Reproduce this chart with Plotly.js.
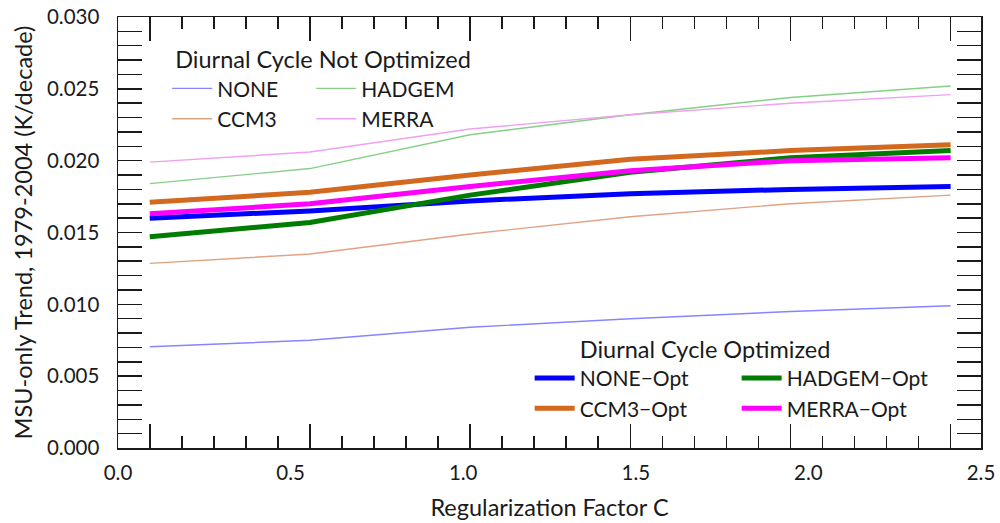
<!DOCTYPE html>
<html>
<head>
<meta charset="utf-8">
<script src="https://cdn.plot.ly/plotly-3.0.1.min.js"></script>
<style>
  html, body { margin: 0; padding: 0; background: #fff; }
  #chart { width: 1000px; height: 523px; }
</style>
</head>
<body>
<div id="chart"></div>
<script>
// Regularization factor C at which each trend was computed
const regFactor = [0.092, 0.556, 1.02, 1.484, 1.948, 2.412];

// Diurnal cycle not optimized (K/decade)
const trendNone   = [0.00705, 0.0075, 0.0084, 0.0090, 0.0095, 0.0099];
const trendCcm3   = [0.01285, 0.0135, 0.0149, 0.0161, 0.0170, 0.0176];
const trendHadgem = [0.0184, 0.01945, 0.0218, 0.0232, 0.0244, 0.0252];
const trendMerra  = [0.0199, 0.0206, 0.0222, 0.0232, 0.0240, 0.0246];

// Diurnal cycle optimized (K/decade)
const trendNoneOpt   = [0.0160, 0.0165, 0.0172, 0.0177, 0.0180, 0.0182];
const trendCcm3Opt   = [0.0171, 0.0178, 0.0190, 0.0201, 0.0207, 0.0211];
const trendHadgemOpt = [0.0147, 0.0157, 0.0176, 0.0192, 0.0202, 0.0207];
const trendMerraOpt  = [0.0163, 0.0170, 0.0182, 0.0193, 0.0200, 0.0202];

const xTickLabels = [0.0, 0.5, 1.0, 1.5, 2.0, 2.5];

const FONT = 'Lato, "Open Sans", sans-serif';
const INK = '#1a1a1a';

// four minor ticks between consecutive C values
const minorTicks = [];
for (let i = 0; i < regFactor.length - 1; i++) {
  for (let k = 1; k < 5; k++) {
    minorTicks.push(regFactor[i] + (regFactor[i + 1] - regFactor[i]) * k / 5);
  }
}

// thin lines sit on the labelled x axis, thick ones on the ticked twin axis (same range)
function thin(name, y, color, group) {
  return { x: regFactor, y: y, name: name, type: 'scatter', mode: 'lines', xaxis: 'x',
           line: { color: color, width: 1.4 }, legend: 'legend', legendgroup: group };
}
function thick(name, y, color, group) {
  return { x: regFactor, y: y, name: name, type: 'scatter', mode: 'lines', xaxis: 'x2',
           line: { color: color, width: 5 }, legend: 'legend2', legendgroup: group };
}

const traces = [
  thin('NONE',   trendNone,   '#8585ff', 'a'),
  thin('CCM3',   trendCcm3,   '#e0a283', 'a'),
  thin('HADGEM', trendHadgem, '#86cf86', 'b'),
  thin('MERRA',  trendMerra,  '#f0a0f0', 'b'),
  thick('NONE\u2212Opt',   trendNoneOpt,   '#0000ff', 'c'),
  thick('CCM3\u2212Opt',   trendCcm3Opt,   '#d2691e', 'c'),
  thick('HADGEM\u2212Opt', trendHadgemOpt, '#007d00', 'd'),
  thick('MERRA\u2212Opt',  trendMerraOpt,  '#ff00ff', 'd')
];

const legendBase = {
  orientation: 'h', traceorder: 'grouped', tracegroupgap: 0,
  xanchor: 'left', yanchor: 'top', bgcolor: 'rgba(0,0,0,0)',
  font: { family: FONT, size: 21, color: INK }, itemwidth: 40
};

const layout = {
  width: 1000, height: 523,
  margin: { l: 118, r: 19, t: 17, b: 75 },
  paper_bgcolor: '#fff', plot_bgcolor: '#fff',
  showlegend: true,
  hovermode: false,
  font: { family: FONT, color: INK },
  xaxis: {
    range: [0, 2.5], tickmode: 'array', tickvals: xTickLabels, tickformat: '.1f',
    ticks: '', showline: true, mirror: true, linecolor: INK, linewidth: 1.5,
    showgrid: false, zeroline: false, ticklabelstandoff: 6,
    tickfont: { family: FONT, size: 20.5, color: INK },
    title: { text: 'Regularization Factor C', font: { family: FONT, size: 23.5, color: INK }, standoff: 16 }
  },
  xaxis2: {
    overlaying: 'x', anchor: 'y', side: 'bottom', range: [0, 2.5],
    tickmode: 'array', tickvals: regFactor, showticklabels: false,
    ticks: 'inside', ticklen: 24, tickwidth: 1.5, tickcolor: INK, mirror: 'ticks',
    showline: false, showgrid: false, zeroline: false,
    minor: { tickmode: 'array', tickvals: minorTicks, ticks: 'inside', ticklen: 12, tickwidth: 1.5, tickcolor: INK, showgrid: false }
  },
  yaxis: {
    range: [0, 0.03], tickmode: 'linear', tick0: 0, dtick: 0.005, tickformat: '.3f',
    ticks: 'inside', ticklen: 24, tickwidth: 1.5, tickcolor: INK,
    minor: { dtick: 0.001, ticks: 'inside', ticklen: 12, tickwidth: 1.5, tickcolor: INK, showgrid: false },
    showline: true, mirror: 'allticks', linecolor: INK, linewidth: 1.5,
    showgrid: false, zeroline: false, ticklabelstandoff: 13,
    tickfont: { family: FONT, size: 20.5, color: INK },
    title: { text: 'MSU-only Trend, 1979-2004 (K/decade)', font: { family: FONT, size: 23.5, color: INK }, standoff: 8 }
  },
  legend: Object.assign({}, legendBase, {
    x: 0.057, y: 0.952, entrywidth: 89,
    title: { text: '\u00a0Diurnal Cycle Not Optimized', side: 'top', font: { family: FONT, size: 23.5, color: INK } }
  }),
  legend2: Object.assign({}, legendBase, {
    x: 0.477, y: 0.28, entrywidth: 152,
    title: { text: '\u00a0\u00a0\u00a0\u00a0\u00a0\u00a0\u00a0\u00a0Diurnal Cycle Optimized', side: 'top', font: { family: FONT, size: 23.5, color: INK } }
  })
};

Plotly.newPlot('chart', traces, layout, { displayModeBar: false, staticPlot: true });
</script>
</body>
</html>
